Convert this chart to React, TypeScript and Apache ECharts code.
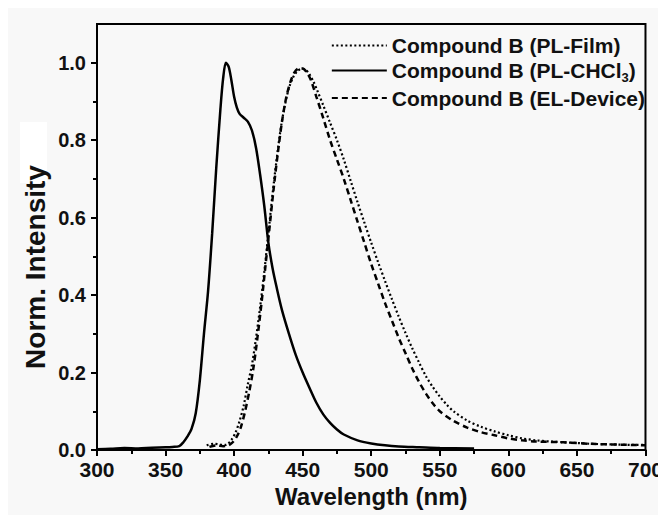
import React, { useEffect, useRef } from "react";
import * as echarts from "echarts";

// PL-CHCl3 (solid)
const solidWl = [300, 310, 320, 330, 340, 350, 355, 360, 363, 366, 369, 372, 375, 378, 381, 384, 387, 390, 392, 394, 396, 398, 400, 402, 404, 407, 410, 413, 416, 419, 422, 425, 428, 431, 435, 440, 445, 450, 455, 460, 465, 470, 475, 480, 490, 500, 510, 520, 535, 550, 575];
const solidVal = [0.002, 0.003, 0.005, 0.004, 0.006, 0.007, 0.008, 0.01, 0.02, 0.035, 0.055, 0.095, 0.18, 0.3, 0.41, 0.56, 0.73, 0.88, 0.96, 1.0, 0.99, 0.955, 0.912, 0.884, 0.868, 0.858, 0.848, 0.825, 0.78, 0.71, 0.63, 0.535, 0.47, 0.42, 0.36, 0.3, 0.245, 0.2, 0.16, 0.122, 0.092, 0.07, 0.053, 0.04, 0.025, 0.017, 0.012, 0.009, 0.007, 0.005, 0.004];

// PL-Film (dotted)
const filmWl = [380, 385, 390, 394, 398, 401, 404, 407, 410, 413, 416, 419, 422, 425, 428, 431, 434, 437, 440, 443, 446, 449, 452, 455, 458, 461, 465, 470, 475, 480, 485, 490, 495, 500, 505, 510, 515, 520, 525, 530, 535, 540, 545, 550, 555, 560, 570, 580, 590, 600, 610, 620, 630, 640, 650, 660, 670, 680, 690, 700];
const filmVal = [0.012, 0.016, 0.014, 0.013, 0.026, 0.045, 0.075, 0.115, 0.17, 0.22, 0.29, 0.37, 0.46, 0.56, 0.66, 0.75, 0.83, 0.89, 0.935, 0.962, 0.978, 0.984, 0.982, 0.97, 0.95, 0.925, 0.89, 0.845, 0.8, 0.75, 0.695, 0.64, 0.587, 0.535, 0.485, 0.437, 0.39, 0.345, 0.302, 0.262, 0.225, 0.19, 0.162, 0.138, 0.117, 0.1, 0.076, 0.06, 0.048, 0.038, 0.03, 0.025, 0.022, 0.02, 0.018, 0.016, 0.015, 0.014, 0.013, 0.013];

// EL-Device (dashed)
const elWl = [382, 387, 392, 396, 399, 402, 405, 408, 411, 414, 417, 420, 423, 426, 429, 432, 435, 438, 441, 444, 447, 450, 453, 456, 460, 465, 470, 475, 480, 485, 490, 495, 500, 505, 510, 515, 520, 525, 530, 535, 540, 545, 550, 560, 570, 580, 590, 600, 610, 620, 640, 660, 680, 700];
const elVal = [0.008, 0.012, 0.01, 0.012, 0.02, 0.035, 0.06, 0.1, 0.15, 0.21, 0.29, 0.38, 0.48, 0.58, 0.68, 0.77, 0.85, 0.91, 0.95, 0.975, 0.985, 0.985, 0.975, 0.955, 0.912, 0.857, 0.8, 0.75, 0.7, 0.645, 0.59, 0.535, 0.48, 0.43, 0.38, 0.335, 0.29, 0.25, 0.21, 0.175, 0.145, 0.12, 0.1, 0.075, 0.058, 0.046, 0.038, 0.03, 0.025, 0.022, 0.02, 0.016, 0.014, 0.012];

const seriesNames = ["Compound B (PL-Film)", "Compound B (PL-CHCl3)", "Compound B (EL-Device)"];
const yMajor = [0, 0.2, 0.4, 0.6, 0.8, 1.0];
const yMinor = [0.1, 0.3, 0.5, 0.7, 0.9];
const yTitle = "Norm. Intensity";

const pairs = (xs: number[], ys: number[]) => xs.map((x, i) => [x, ys[i]]);

const FONT = "'Liberation Sans', Arial, sans-serif";

export default function App() {
  const ref = useRef<HTMLDivElement>(null);
  useEffect(() => {
    if (!ref.current) return;
    const chart = echarts.init(ref.current, undefined, { renderer: "svg" });
    chart.setOption({
      animation: false,
      backgroundColor: "#f8f8f8",
      textStyle: { fontFamily: FONT },
      grid: { left: 89, right: 14, top: 16, bottom: 65, show: true, borderColor: "#000", borderWidth: 2, backgroundColor: "transparent" },
      legend: {
        orient: "vertical",
        right: 16,
        top: 22,
        itemGap: 4,
        itemWidth: 55,
        itemHeight: 14,
        data: seriesNames,
        itemStyle: { opacity: 0, borderWidth: 0 },
        formatter: (name: string) =>
          name === "Compound B (PL-CHCl3)" ? "{n|Compound B (PL-CHCl}{s|3}{n|)}" : "{n|" + name + "}",
        textStyle: {
          rich: {
            n: { fontSize: 21, fontWeight: "bold", color: "#111", fontFamily: FONT, lineHeight: 26 },
            s: { fontSize: 13, fontWeight: "bold", color: "#111", fontFamily: FONT, lineHeight: 13, verticalAlign: "bottom" },
          },
        },
      },
      graphic: [
        { type: "rect", shape: { x: 12, y: 114, width: 27, height: 61 }, style: { fill: "#ffffff" }, silent: true },
        {
          type: "text",
          x: 27,
          y: 259,
          rotation: Math.PI / 2,
          style: {
            text: yTitle,
            fontSize: 28,
            fontWeight: "bold",
            fontFamily: FONT,
            fill: "#111",
            textAlign: "center",
            textVerticalAlign: "middle",
          },
          silent: true,
        },
      ],
      xAxis: {
        type: "value",
        min: 300,
        max: 700,
        interval: 50,
        name: "Wavelength (nm)",
        nameLocation: "middle",
        nameGap: 34,
        nameTextStyle: { fontSize: 24, fontWeight: "bold", color: "#111", fontFamily: FONT },
        axisLine: { show: true, lineStyle: { color: "#000", width: 2 } },
        axisTick: { show: true, inside: false, length: 6, lineStyle: { color: "#000", width: 2 } },
        minorTick: { show: true, splitNumber: 2, length: 4, lineStyle: { color: "#000", width: 2 } },
        axisLabel: { fontSize: 21, fontWeight: "bold", color: "#111", margin: 9, fontFamily: FONT },
        splitLine: { show: false },
      },
      yAxis: [
        {
          type: "value",
          min: 0,
          max: 1.1,
          axisLine: { show: true, lineStyle: { color: "#000", width: 2 } },
          axisTick: { show: true, length: 6, customValues: yMajor, lineStyle: { color: "#000", width: 2 } },
          axisLabel: {
            customValues: yMajor,
            fontSize: 20,
            fontWeight: "bold",
            color: "#111",
            margin: 11,
            fontFamily: FONT,
            formatter: (v: number) => v.toFixed(1),
          },
          splitLine: { show: false },
        },
        {
          type: "value",
          min: 0,
          max: 1.1,
          position: "left",
          axisLine: { show: false },
          axisTick: { show: true, length: 4, customValues: yMinor, lineStyle: { color: "#000", width: 2 } },
          axisLabel: { show: false },
          splitLine: { show: false },
        },
      ],
      series: [
        {
          name: seriesNames[0],
          type: "line",
          smooth: 0.3,
          showSymbol: false,
          symbol: "none",
          data: pairs(filmWl, filmVal),
          lineStyle: { color: "#000", width: 2.2, type: [2, 2.5] },
          itemStyle: { color: "#000" },
        },
        {
          name: seriesNames[1],
          type: "line",
          smooth: 0.3,
          showSymbol: false,
          symbol: "none",
          data: pairs(solidWl, solidVal),
          lineStyle: { color: "#000", width: 2.5, type: "solid" },
          itemStyle: { color: "#000" },
        },
        {
          name: seriesNames[2],
          type: "line",
          smooth: 0.3,
          showSymbol: false,
          symbol: "none",
          data: pairs(elWl, elVal),
          lineStyle: { color: "#000", width: 2.5, type: [6, 4] },
          itemStyle: { color: "#000" },
        },
      ],
    });
    return () => chart.dispose();
  }, []);
  return <div ref={ref} style={{ width: 658, height: 507 }} />;
}
